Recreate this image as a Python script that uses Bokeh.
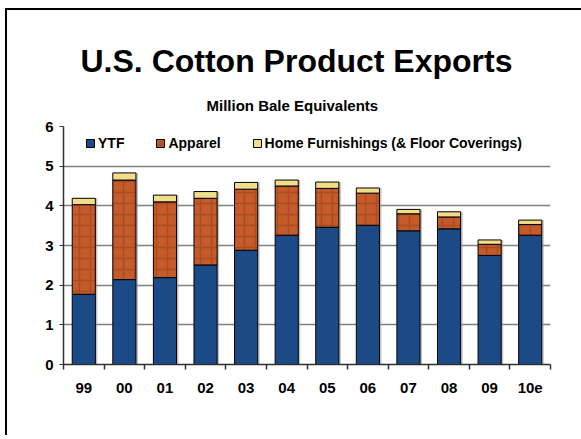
from bokeh.plotting import figure
from bokeh.models import Range1d, FixedTicker, Legend, Title
from bokeh.embed import file_html
from bokeh.resources import INLINE

years = ["99", "00", "01", "02", "03", "04", "05", "06", "07", "08", "09", "10e"]
ytf = [1.77, 2.14, 2.19, 2.51, 2.88, 3.26, 3.46, 3.51, 3.37, 3.42, 2.75, 3.26]
apparel = [2.26, 2.51, 1.91, 1.68, 1.54, 1.24, 0.98, 0.81, 0.43, 0.30, 0.28, 0.27]
home = [0.16, 0.18, 0.17, 0.17, 0.17, 0.15, 0.16, 0.13, 0.11, 0.13, 0.11, 0.11]
y_ticks = [0, 1, 2, 3, 4, 5, 6]

FONT = "Liberation Sans"
xs = [i + 0.5 for i in range(len(years))]
totals = [a + b + c for a, b, c in zip(ytf, apparel, home)]

p = figure(width=574, height=427, output_backend="svg", toolbar_location=None,
           x_range=Range1d(0, len(years)), y_range=Range1d(0, 6),
           min_border_left=56, min_border_right=31, min_border_top=116, min_border_bottom=73)
p.frame_width = 487
p.frame_height = 238
p.outline_line_color = None
p.background_fill_color = "white"
p.border_fill_color = "white"
p.styles = {"box-shadow": "-2px -2px 0px 0px black, 0px -2px 0px 0px black",
            "background-color": "white",
            "margin-left": "7px", "margin-top": "10px"}

# grid
p.xgrid.grid_line_color = None
p.ygrid.grid_line_color = "#808080"
p.ygrid.grid_line_width = 1.5

# shadow
p.vbar(x=[x + 0.05 for x in xs], top=totals, bottom=0, width=0.57,
       fill_color="#9a9a9a", fill_alpha=0.6, line_color=None)

r_ytf = p.vbar(x=xs, top=ytf, bottom=0, width=0.57, fill_color="#1B4A86",
               line_color="black", line_width=1)
tops2 = [a + b for a, b in zip(ytf, apparel)]
r_app = p.vbar(x=xs, top=tops2, bottom=ytf, width=0.57, fill_color="#C55A2B",
               line_color="black", line_width=1,
               hatch_pattern="+", hatch_color="#A0461C", hatch_weight=1.5,
               hatch_scale=11, hatch_alpha=0.7)
r_home = p.vbar(x=xs, top=totals, bottom=tops2, width=0.57, fill_color="#F2DD8A",
                line_color="black", line_width=1)

legend = Legend(items=[("YTF", [r_ytf]), ("Apparel", [r_app]),
                       ("Home Furnishings (& Floor Coverings)", [r_home])],
                orientation="horizontal", location=(22, 213),
                label_text_font=FONT, label_text_font_style="bold",
                label_text_font_size="14px", label_text_color="black",
                glyph_width=10, glyph_height=10, label_standoff=3, spacing=31,
                padding=0, margin=0, background_fill_alpha=0, border_line_alpha=0)
p.add_layout(legend, "center")

# axes
p.yaxis.ticker = FixedTicker(ticks=y_ticks)
p.yaxis.major_label_text_font = FONT
p.yaxis.major_label_text_font_style = "bold"
p.yaxis.major_label_text_font_size = "15px"
p.yaxis.major_label_text_color = "black"
p.yaxis.major_tick_out = 4
p.yaxis.major_tick_in = 0
p.yaxis.minor_tick_line_color = None
p.yaxis.major_label_standoff = 6
p.yaxis.axis_line_color = "#303030"
p.yaxis.axis_line_width = 1.5
p.yaxis.major_tick_line_color = "#303030"

p.xaxis.ticker = FixedTicker(ticks=xs, minor_ticks=list(range(len(years) + 1)))
p.xaxis.major_label_overrides = {x: y for x, y in zip(xs, years)}
p.xaxis.major_tick_out = 0
p.xaxis.major_tick_in = 0
p.xaxis.minor_tick_out = 5
p.xaxis.minor_tick_in = 0
p.xaxis.minor_tick_line_color = "#303030"
p.xaxis.minor_tick_line_width = 1.5
p.xaxis.major_label_standoff = 13
p.xaxis.major_label_text_font = FONT
p.xaxis.major_label_text_font_style = "bold"
p.xaxis.major_label_text_font_size = "15px"
p.xaxis.major_label_text_color = "black"
p.xaxis.axis_line_color = "#303030"
p.xaxis.axis_line_width = 1.5

# titles (first added is closest to the frame)
p.add_layout(Title(text="Million Bale Equivalents", align="left", offset=143,
                   text_font=FONT, text_font_style="bold", text_font_size="15px",
                   text_color="black", standoff=26), "above")
p.add_layout(Title(text="U.S. Cotton Product Exports", align="left", offset=17,
                   text_font=FONT, text_font_style="bold", text_font_size="32px",
                   text_color="black", standoff=6), "above")

open("out.html", "w").write(file_html(p, INLINE))
